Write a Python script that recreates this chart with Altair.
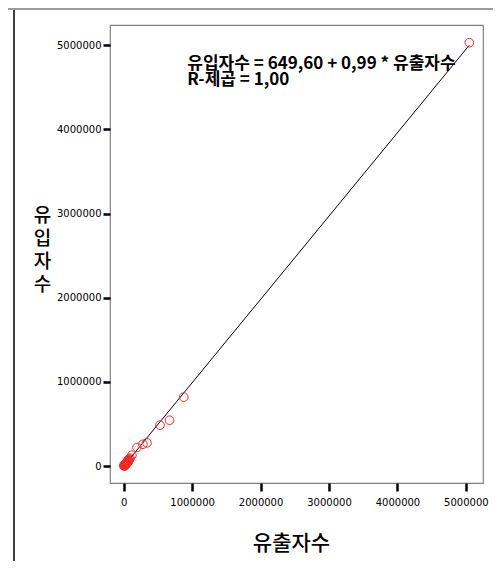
import altair as alt
import pandas as pd

# Outflow (유출자수) and inflow (유입자수) per region
outflow = [5050000, 877000, 670000, 530000, 340000, 280000, 195000, 120000,
           92000, 85000, 78000, 72000, 66000, 61000, 57000, 53000, 49000, 45000,
           42000, 39000, 36000, 33000, 30000, 27000, 24000, 21000, 18000, 15000,
           12000, 9000, 6000, 4000, 60000, 40000, 25000, 70000, 50000, 30000, 15000]
inflow = [5030000, 820000, 546000, 487000, 277000, 260000, 222000, 130000,
          95000, 80000, 82000, 65000, 70000, 55000, 60000, 48000, 52000, 40000,
          46000, 35000, 38000, 30000, 34000, 22000, 27000, 16000, 20000, 10000,
          15000, 6000, 9000, 3000, 45000, 28000, 12000, 58000, 36000, 18000, 4000]

intercept = 649.60
slope = 0.99

x_ticks = [0, 1000000, 2000000, 3000000, 4000000, 5000000]
y_ticks = [0, 1000000, 2000000, 3000000, 4000000, 5000000]

ann_lines = ["유입자수 = 649,60 + 0,99 * 유출자수", "R-제곱 = 1,00"]
ann_x = [930000]
ann_y = [4870000]

pts = pd.DataFrame({"유출자수": outflow, "유입자수": inflow})
xmin, xmax = min(outflow), max(outflow)
fit = pd.DataFrame({"유출자수": [xmin, xmax],
                    "유입자수": [intercept + slope * xmin, intercept + slope * xmax]})
ann = pd.DataFrame({"x": ann_x, "y": ann_y})

xs = alt.Scale(domain=[-200000, 5250000], nice=False, zero=False)
ys = alt.Scale(domain=[-200000, 5240000], nice=False, zero=False)

lab_font = "DejaVu Sans"
kfont = "Noto Sans CJK KR"

x_axis = alt.Axis(values=x_ticks, format="d", title="유출자수", grid=False, domain=False,
                  tickSize=8, tickWidth=2.5, tickColor="black", labelPadding=6,
                  labelFont=lab_font, labelFontSize=10, labelColor="black",
                  titleFont=kfont, titleFontSize=21, titleFontWeight=500,
                  titleColor="black", titleX=181, titleY=66,
                  titleAnchor="middle", titleBaseline="alphabetic")
y_axis = alt.Axis(values=y_ticks, format="d", title=["유", "입", "자", "수"], grid=False,
                  domain=False, tickSize=7, tickWidth=2.5, tickColor="black", labelPadding=2,
                  labelFont=lab_font, labelFontSize=10, labelColor="black",
                  titleFont=kfont, titleFontSize=19, titleFontWeight=500,
                  titleColor="black", titleAngle=0, titleX=-68, titleY=190,
                  titleAlign="center", titleBaseline="middle", titleLineHeight=23)

points = alt.Chart(pts).mark_point(shape="circle", filled=False, color="#f52828",
                                   size=75, strokeWidth=1, opacity=1).encode(
    x=alt.X("유출자수:Q", scale=xs, axis=x_axis),
    y=alt.Y("유입자수:Q", scale=ys, axis=y_axis),
)

line = alt.Chart(fit).mark_line(color="black", strokeWidth=1).encode(
    x=alt.X("유출자수:Q", scale=xs),
    y=alt.Y("유입자수:Q", scale=ys),
)

text = alt.Chart(ann).mark_text(text=ann_lines, align="left", baseline="top",
                                font=kfont, fontSize=17, fontWeight="bold",
                                lineHeight=16, color="black").encode(
    x=alt.X("x:Q", scale=xs),
    y=alt.Y("y:Q", scale=ys),
)

# outer panel frame lines (decoration)
frame_left = alt.Chart(pts).mark_rule(color="#404040", strokeWidth=2).encode(
    x=alt.value(-96), y=alt.value(-25), y2=alt.value(560))
frame_top = alt.Chart(pts).mark_rule(color="#9a9a9a", strokeWidth=2).encode(
    x=alt.value(-110), x2=alt.value(400), y=alt.value(-16))

chart = alt.layer(frame_left, frame_top, line, points, text).properties(
    width=373, height=458,
    autosize=alt.AutoSizeParams(type="none"),
    padding={"left": 102, "top": 17, "right": 10, "bottom": 78},
    background="white",
).configure_view(stroke="#808080", strokeWidth=1.2)

chart.save("out.html", embed_options={"renderer": "svg", "actions": False})
